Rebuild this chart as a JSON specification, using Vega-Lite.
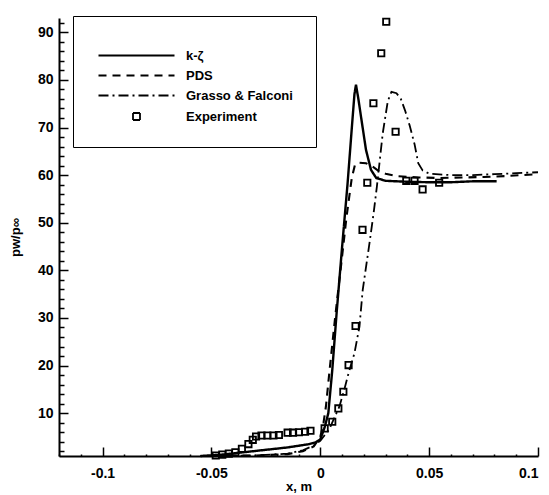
{
  "$schema": "https://vega.github.io/schema/vega-lite/v6.json",
  "width": 479,
  "height": 438,
  "autosize": {"type": "none"},
  "padding": {"left": 59, "top": 18, "right": 11, "bottom": 39},
  "background": "white",
  "config": {
    "view": {"stroke": null},
    "font": "Liberation Sans",
    "axis": {
      "domainColor": "black", "domainWidth": 2, "tickColor": "black", "tickWidth": 1.5,
      "labelColor": "black", "labelFont": "Liberation Sans", "labelFontWeight": "bold", "labelFontSize": 14,
      "titleColor": "black", "titleFont": "Liberation Sans", "titleFontWeight": "bold", "titleFontSize": 13,
      "grid": false, "labelOverlap": false
    }
  },
  "data": {"values": [
    {"series": "k-ζ", "x": -0.055, "y": 1.0}, {"series": "k-ζ", "x": -0.045, "y": 1.3}, {"series": "k-ζ", "x": -0.035, "y": 1.8},
    {"series": "k-ζ", "x": -0.025, "y": 2.3}, {"series": "k-ζ", "x": -0.015, "y": 2.8}, {"series": "k-ζ", "x": -0.005, "y": 3.5},
    {"series": "k-ζ", "x": -0.002, "y": 3.9}, {"series": "k-ζ", "x": 0.0, "y": 4.5}, {"series": "k-ζ", "x": 0.002, "y": 7},
    {"series": "k-ζ", "x": 0.0037, "y": 10}, {"series": "k-ζ", "x": 0.0055, "y": 19}, {"series": "k-ζ", "x": 0.0075, "y": 31},
    {"series": "k-ζ", "x": 0.0103, "y": 46.4}, {"series": "k-ζ", "x": 0.0125, "y": 58}, {"series": "k-ζ", "x": 0.0145, "y": 70},
    {"series": "k-ζ", "x": 0.0157, "y": 77}, {"series": "k-ζ", "x": 0.0164, "y": 79}, {"series": "k-ζ", "x": 0.0175, "y": 76},
    {"series": "k-ζ", "x": 0.0188, "y": 72}, {"series": "k-ζ", "x": 0.021, "y": 65.3}, {"series": "k-ζ", "x": 0.0233, "y": 61.1},
    {"series": "k-ζ", "x": 0.0257, "y": 59.4}, {"series": "k-ζ", "x": 0.03, "y": 58.8}, {"series": "k-ζ", "x": 0.04, "y": 58.6},
    {"series": "k-ζ", "x": 0.05, "y": 58.5}, {"series": "k-ζ", "x": 0.06, "y": 58.5}, {"series": "k-ζ", "x": 0.07, "y": 58.7},
    {"series": "k-ζ", "x": 0.081, "y": 58.7},

    {"series": "PDS", "x": -0.055, "y": 1.0}, {"series": "PDS", "x": -0.03, "y": 1.1}, {"series": "PDS", "x": -0.015, "y": 1.4},
    {"series": "PDS", "x": -0.008, "y": 2.0}, {"series": "PDS", "x": -0.003, "y": 3.0}, {"series": "PDS", "x": 0.0, "y": 5.0},
    {"series": "PDS", "x": 0.0015, "y": 8}, {"series": "PDS", "x": 0.0026, "y": 11.4}, {"series": "PDS", "x": 0.0045, "y": 20},
    {"series": "PDS", "x": 0.0068, "y": 30}, {"series": "PDS", "x": 0.0095, "y": 40.8}, {"series": "PDS", "x": 0.012, "y": 51},
    {"series": "PDS", "x": 0.0145, "y": 59.5}, {"series": "PDS", "x": 0.016, "y": 62.3}, {"series": "PDS", "x": 0.018, "y": 62.6},
    {"series": "PDS", "x": 0.021, "y": 62.5}, {"series": "PDS", "x": 0.024, "y": 61.8}, {"series": "PDS", "x": 0.027, "y": 60.8},
    {"series": "PDS", "x": 0.03, "y": 60.3}, {"series": "PDS", "x": 0.035, "y": 59.8}, {"series": "PDS", "x": 0.045, "y": 59.5},
    {"series": "PDS", "x": 0.055, "y": 59.4}, {"series": "PDS", "x": 0.065, "y": 59.5}, {"series": "PDS", "x": 0.075, "y": 59.6},
    {"series": "PDS", "x": 0.085, "y": 59.8}, {"series": "PDS", "x": 0.1, "y": 60.2},

    {"series": "Grasso & Falconi", "x": -0.055, "y": 1.0}, {"series": "Grasso & Falconi", "x": -0.03, "y": 1.1},
    {"series": "Grasso & Falconi", "x": -0.015, "y": 1.5}, {"series": "Grasso & Falconi", "x": -0.008, "y": 2.2},
    {"series": "Grasso & Falconi", "x": -0.003, "y": 3.2}, {"series": "Grasso & Falconi", "x": 0.0, "y": 4.2},
    {"series": "Grasso & Falconi", "x": 0.004, "y": 6.5}, {"series": "Grasso & Falconi", "x": 0.0088, "y": 11.4},
    {"series": "Grasso & Falconi", "x": 0.011, "y": 14.9}, {"series": "Grasso & Falconi", "x": 0.013, "y": 18.4},
    {"series": "Grasso & Falconi", "x": 0.0157, "y": 22.6}, {"series": "Grasso & Falconi", "x": 0.018, "y": 28.2},
    {"series": "Grasso & Falconi", "x": 0.0195, "y": 35.9}, {"series": "Grasso & Falconi", "x": 0.0226, "y": 45.7},
    {"series": "Grasso & Falconi", "x": 0.0245, "y": 52}, {"series": "Grasso & Falconi", "x": 0.026, "y": 57.6},
    {"series": "Grasso & Falconi", "x": 0.0287, "y": 68.8}, {"series": "Grasso & Falconi", "x": 0.031, "y": 75.5},
    {"series": "Grasso & Falconi", "x": 0.0327, "y": 77.5}, {"series": "Grasso & Falconi", "x": 0.035, "y": 77.2},
    {"series": "Grasso & Falconi", "x": 0.037, "y": 76}, {"series": "Grasso & Falconi", "x": 0.039, "y": 73.5},
    {"series": "Grasso & Falconi", "x": 0.041, "y": 70.5}, {"series": "Grasso & Falconi", "x": 0.0433, "y": 66.5},
    {"series": "Grasso & Falconi", "x": 0.045, "y": 62.5}, {"series": "Grasso & Falconi", "x": 0.047, "y": 61},
    {"series": "Grasso & Falconi", "x": 0.05, "y": 60.3}, {"series": "Grasso & Falconi", "x": 0.06, "y": 60},
    {"series": "Grasso & Falconi", "x": 0.07, "y": 60}, {"series": "Grasso & Falconi", "x": 0.08, "y": 60.2},
    {"series": "Grasso & Falconi", "x": 0.09, "y": 60.4}, {"series": "Grasso & Falconi", "x": 0.1, "y": 60.6},

    {"series": "Experiment", "x": -0.048, "y": 1.1}, {"series": "Experiment", "x": -0.045, "y": 1.3},
    {"series": "Experiment", "x": -0.042, "y": 1.5}, {"series": "Experiment", "x": -0.039, "y": 1.8},
    {"series": "Experiment", "x": -0.036, "y": 2.5}, {"series": "Experiment", "x": -0.033, "y": 3.5},
    {"series": "Experiment", "x": -0.031, "y": 4.4}, {"series": "Experiment", "x": -0.0295, "y": 5.1},
    {"series": "Experiment", "x": -0.027, "y": 5.3}, {"series": "Experiment", "x": -0.0243, "y": 5.3},
    {"series": "Experiment", "x": -0.0215, "y": 5.3}, {"series": "Experiment", "x": -0.019, "y": 5.4},
    {"series": "Experiment", "x": -0.015, "y": 5.9}, {"series": "Experiment", "x": -0.0125, "y": 5.9},
    {"series": "Experiment", "x": -0.0098, "y": 6.0}, {"series": "Experiment", "x": -0.007, "y": 6.1},
    {"series": "Experiment", "x": -0.0045, "y": 6.3}, {"series": "Experiment", "x": 0.002, "y": 6.8},
    {"series": "Experiment", "x": 0.0055, "y": 8.2}, {"series": "Experiment", "x": 0.0083, "y": 11},
    {"series": "Experiment", "x": 0.0106, "y": 14.5}, {"series": "Experiment", "x": 0.013, "y": 20.1},
    {"series": "Experiment", "x": 0.0162, "y": 28.3}, {"series": "Experiment", "x": 0.0194, "y": 48.5},
    {"series": "Experiment", "x": 0.0216, "y": 58.4}, {"series": "Experiment", "x": 0.0244, "y": 75.1},
    {"series": "Experiment", "x": 0.028, "y": 85.6}, {"series": "Experiment", "x": 0.0303, "y": 92.2},
    {"series": "Experiment", "x": 0.0346, "y": 69.1}, {"series": "Experiment", "x": 0.0395, "y": 58.8},
    {"series": "Experiment", "x": 0.0433, "y": 58.8}, {"series": "Experiment", "x": 0.047, "y": 57.0},
    {"series": "Experiment", "x": 0.0546, "y": 58.4}
  ]},
  "encoding": {
    "x": {"field": "x", "type": "quantitative",
      "scale": {"domain": [-0.12, 0.1], "nice": false, "zero": false},
      "axis": {"title": "x, m", "titlePadding": -7,
        "values": [-0.12,-0.11,-0.1,-0.09,-0.08,-0.07,-0.06,-0.05,-0.04,-0.03,-0.02,-0.01,0,0.01,0.02,0.03,0.04,0.05,0.06,0.07,0.08,0.09,0.1],
        "labelExpr": "abs(datum.value*20 - round(datum.value*20)) < 1e-6 ? '' + datum.value : ''",
        "tickSize": {"condition": {"test": "abs(datum.value*20 - round(datum.value*20)) < 1e-6", "value": -9}, "value": -2},
        "labelPadding": 19}},
    "y": {"field": "y", "type": "quantitative",
      "scale": {"domain": [1, 93], "nice": false, "zero": false},
      "axis": {"title": "pw/p∞", "titlePadding": 15,
        "values": [2,4,6,8,10,12,14,16,18,20,22,24,26,28,30,32,34,36,38,40,42,44,46,48,50,52,54,56,58,60,62,64,66,68,70,72,74,76,78,80,82,84,86,88,90,92],
        "labelExpr": "datum.value % 10 === 0 ? '' + datum.value : ''",
        "tickSize": {"condition": {"test": "datum.value % 10 === 0", "value": -9}, "value": -5},
        "labelPadding": 15}}
  },
  "layer": [
    {
      "transform": [{"filter": "datum.series !== 'Experiment'"}],
      "mark": {"type": "line", "color": "black"},
      "encoding": {
        "strokeDash": {"field": "series", "type": "nominal",
          "scale": {"domain": ["k-ζ", "PDS", "Grasso & Falconi", "Experiment"], "range": [[1, 0], [8, 6], [10, 4, 2, 4], [1, 0]]},
          "legend": {"title": " ", "titleFontSize": 6, "titlePadding": 4, "orient": "none", "legendX": 14, "legendY": -2,
            "strokeColor": "black", "padding": 23, "rowPadding": 6, "symbolSize": 100, "symbolStrokeWidth": 1.8,
            "symbolOffset": 34, "labelOffset": 43,
            "labelFont": "Liberation Sans", "labelFontWeight": "bold", "labelFontSize": 13, "labelColor": "black",
            "symbolStrokeColor": "black", "symbolFillColor": "transparent",
            "encode": {"symbols": {"update": {
              "shape": {"signal": "datum.value === 'Experiment' ? 'M-0.7,-0.7H0.7V0.7H-0.7Z' : 'M-7.6,0H7.6'"},
              "stroke": {"value": "black"}, "fill": {"value": "transparent"}}}}}},
        "strokeWidth": {"field": "series", "type": "nominal",
          "scale": {"domain": ["k-ζ", "PDS", "Grasso & Falconi"], "range": [2.4, 1.8, 1.6]}, "legend": null}
      }
    },
    {
      "transform": [{"filter": "datum.series === 'Experiment'"}],
      "mark": {"type": "point", "shape": "square", "filled": false, "color": "black", "size": 40, "strokeWidth": 1.8, "opacity": 1}
    }
  ]
}
